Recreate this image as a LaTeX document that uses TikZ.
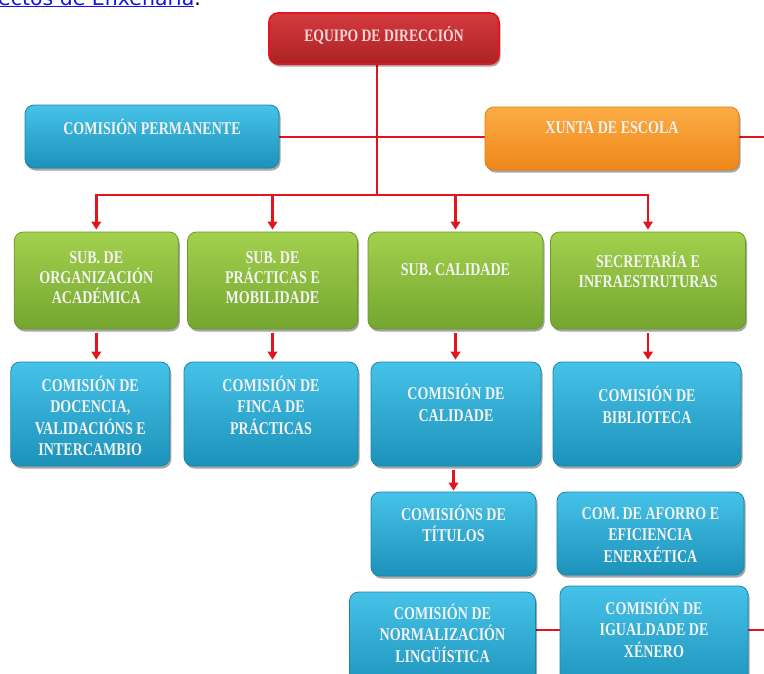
\documentclass[tikz,border=0pt]{standalone}
\usepackage{fontspec}
\setmainfont{Liberation Serif}
\newfontfamily\boxfont[FakeStretch=0.78]{Liberation Serif}
\newfontfamily\linkfont{DejaVu Sans}
\usetikzlibrary{shadows,arrows.meta}
\pgfdeclarelayer{bg}
\pgfsetlayers{bg,main}
\definecolor{cblueT}{HTML}{46C2E8}
\definecolor{cblueB}{HTML}{1C92BA}
\definecolor{cblueD}{HTML}{1B86A8}
\definecolor{cgreenT}{HTML}{A3D14E}
\definecolor{cgreenB}{HTML}{74A52F}
\definecolor{cgreenD}{HTML}{6A9A2A}
\definecolor{corgT}{HTML}{FCAC45}
\definecolor{corgB}{HTML}{EF8718}
\definecolor{corgD}{HTML}{E07D12}
\definecolor{credT}{HTML}{D33A3E}
\definecolor{credB}{HTML}{AC2226}
\definecolor{credline}{HTML}{E3141B}
\definecolor{txtc}{HTML}{F2F2F2}
\definecolor{txtr}{HTML}{F6D8D8}
\definecolor{linkc}{HTML}{1414E6}
\tikzset{
  boxbase/.style={rounded corners=9pt, line width=0.8pt, inner sep=0pt,
    drop shadow={shadow xshift=1.5pt, shadow yshift=-2.5pt, opacity=0.35, fill=black}},
  bluebox/.style={boxbase, draw=cblueD, top color=cblueT, bottom color=cblueB},
  greenbox/.style={boxbase, draw=cgreenD, top color=cgreenT, bottom color=cgreenB},
  orangebox/.style={boxbase, draw=corgD, top color=corgT, bottom color=corgB},
  redbox/.style={boxbase, draw=credline, line width=1.6pt, top color=credT, bottom color=credB},
  lbl/.style={font=\boxfont\bfseries\fontsize{18}{21.5}\selectfont, text=txtc, align=center, inner sep=0pt},
  glbl/.style={lbl, font=\boxfont\bfseries\fontsize{18}{20}\selectfont},
  conn/.style={draw=credline, line width=2.8pt},
  arr/.style={conn, -{Triangle[length=8pt,width=9.5pt]}},
}
\begin{document}
\begin{tikzpicture}[x=1pt,y=-1pt]
\useasboundingbox (0,0) rectangle (764,673);

% link text at top
\node[anchor=base west, inner sep=0pt, font=\linkfont\fontsize{20.5}{24}\selectfont, text=linkc] (link) at (-2,5) {\underline{ectos de Enxeñaría}\textcolor{black}{.}};

% top boxes
\node[redbox, minimum width=230pt, minimum height=51pt] (eq) at (384,38.5) {};
\node[lbl, text=txtr, font=\boxfont\bfseries\fontsize{17.5}{20}\selectfont] (eqt) at (384,35) {EQUIPO DE DIRECCIÓN};
\node[bluebox, minimum width=254pt, minimum height=63pt] (perm) at (152,136.5) {};
\node[lbl] (permt) at (152,127) {COMISIÓN PERMANENTE};
\node[orangebox, minimum width=254pt, minimum height=63pt] (xun) at (612,138.5) {};
\node[lbl] (xunt) at (612,128) {XUNTA DE ESCOLA};

% green row
\node[greenbox, minimum width=164pt, minimum height=97pt] (g1) at (96.3,280.5) {};
\node[glbl] (g1t) at (96.3,278) {SUB. DE\\ORGANIZACIÓN\\ACADÉMICA};
\node[greenbox, minimum width=170pt, minimum height=97pt] (g2) at (272.5,280.5) {};
\node[glbl] (g2t) at (272.5,278) {SUB. DE\\PRÁCTICAS E\\MOBILIDADE};
\node[greenbox, minimum width=175pt, minimum height=97pt] (g3) at (455.5,280.5) {};
\node[glbl] (g3t) at (455.5,270) {SUB. CALIDADE};
\node[greenbox, minimum width=195pt, minimum height=97pt] (g4) at (648,280.5) {};
\node[glbl] (g4t) at (648,270) {SECRETARÍA E\\INFRAESTRUTURAS};

% blue row
\node[bluebox, minimum width=159pt, minimum height=104pt] (b1) at (90.3,414) {};
\node[lbl] (b1t) at (90.3,416) {COMISIÓN DE\\DOCENCIA,\\VALIDACIÓNS E\\INTERCAMBIO};
\node[bluebox, minimum width=174pt, minimum height=104pt] (b2) at (271,414) {};
\node[lbl] (b2t) at (271,405) {COMISIÓN DE\\FINCA DE\\PRÁCTICAS};
\node[bluebox, minimum width=170pt, minimum height=104pt] (b3) at (456,414) {};
\node[lbl] (b3t) at (456,403) {COMISIÓN DE\\CALIDADE};
\node[bluebox, minimum width=188pt, minimum height=104pt] (b4) at (647,414) {};
\node[lbl] (b4t) at (647,405) {COMISIÓN DE\\BIBLIOTECA};

% lower boxes
\node[bluebox, minimum width=165pt, minimum height=84pt] (tit) at (453.5,534) {};
\node[lbl] (titt) at (453.5,523.5) {COMISIÓNS DE\\TÍTULOS};
\node[bluebox, minimum width=187pt, minimum height=83pt] (afo) at (650.5,533.5) {};
\node[lbl] (afot) at (650.5,535) {COM.\,DE AFORRO E\\EFICIENCIA\\ENERXÉTICA};
\node[bluebox, minimum width=186pt, minimum height=100pt] (nor) at (442.5,642) {};
\node[lbl] (nort) at (442.5,633) {COMISIÓN DE\\NORMALIZACIÓN\\LINGÜÍSTICA};
\node[bluebox, minimum width=188pt, minimum height=106pt] (igu) at (654,639) {};
\node[lbl] (igut) at (654,628) {COMISIÓN DE\\IGUALDADE DE\\XÉNERO};

% connectors
\coordinate (busc) at (377,195);
\coordinate (hl) at (377,137);
\coordinate (rightA) at (770,137);
\coordinate (hl2) at (540,630);
\coordinate (rightB) at (770,630);
\begin{pgfonlayer}{bg}
\draw[conn] (eq.south -| busc) -- (busc);
\draw[conn] (perm.east |- hl) -- (xun.west |- hl);
\draw[conn] (xun.east |- hl) -- (rightA);
\draw[conn] (nor.east |- hl2) -- (igu.west |- hl2);
\draw[conn] (igu.east |- hl2) -- (rightB);
\end{pgfonlayer}
\draw[arr, shorten >=2pt] (busc) -| (g1.north);
\draw[arr, shorten >=2pt] (busc) -| (g2.north);
\draw[arr, shorten >=2pt] (busc) -| (g3.north);
\draw[arr, shorten >=2pt] (busc) -| (g4.north);
\draw[arr, shorten <=4pt, shorten >=2pt] (g1.south) -- (g1.south |- b1.north);
\draw[arr, shorten <=4pt, shorten >=2pt] (g2.south) -- (g2.south |- b2.north);
\draw[arr, shorten <=4pt, shorten >=2pt] (g3.south) -- (g3.south |- b3.north);
\draw[arr, shorten <=4pt, shorten >=2pt] (g4.south) -- (g4.south |- b4.north);
\draw[arr, shorten <=4pt, shorten >=1pt] (tit.north |- b3.south) -- (tit.north);
\end{tikzpicture}
\end{document}
